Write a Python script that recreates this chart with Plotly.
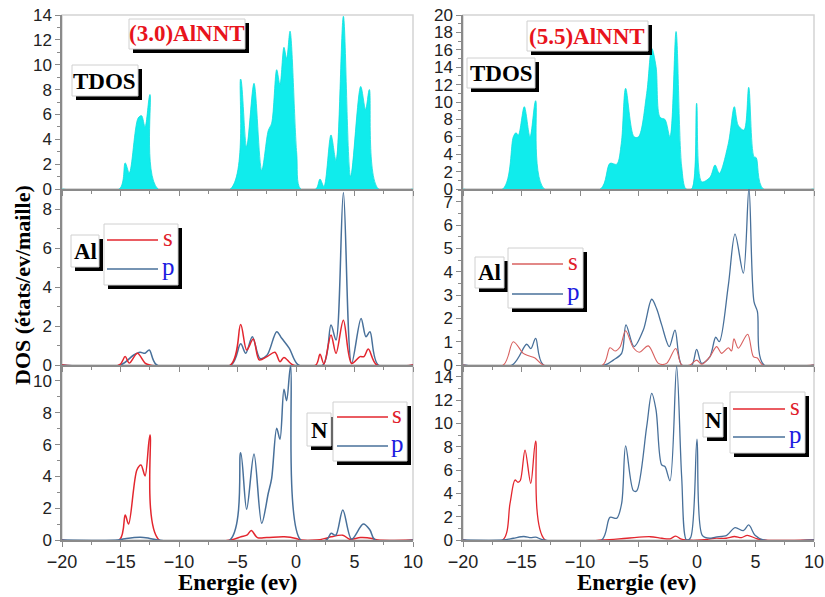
import plotly.graph_objects as go

W, H = 825, 597

# ---------------- data ----------------
# (3.0)AlNNT
e_tdos_30 = [-20, -15.1, -14.6, -14.25, -13.5, -13.2, -12.9, -12.48, -11.8, -5.6, -4.73, -4.22, -3.59, -2.93,
             -2.37, -2.08, -1.65, -1.37, -1.03, -0.8, -0.51, 0.06, 0.4, 1.7, 2.05, 2.39, 2.99, 3.42, 4.05,
             4.67, 5.53, 5.95, 6.27, 7.05, 10]
tdos_30 = [0, 0, 2.1, 1.3, 5.7, 5.9, 5.0, 7.6, 0, 0, 8.85, 3.4, 8.5, 1.5,
           4.7, 5.3, 9.6, 8.4, 11.4, 10.5, 12.7, 2.9, 0, 0, 0.8, 0.2, 4.35, 2.3, 13.9,
           1.0, 8.25, 6.4, 8.0, 0, 0]

e_al_s_30 = [-20, -15.1, -14.6, -14.25, -13.56, -12.9, -12.5, -5.6, -4.73, -4.22, -3.65, -3.14, -2.48, -1.8,
             -1.37, -1.03, -0.25, 1.7, 2.05, 2.39, 2.99, 3.42, 4.05, 4.75, 5.47, 5.81, 6.18, 6.9, 10]
al_s_30 = [0, 0, 0.43, 0.1, 0.6, 0.1, 0, 0, 2.08, 0.77, 1.33, 0.26, 0.43, 0.65,
           0.17, 0.39, 0, 0, 0.55, 0.05, 1.54, 0.6, 2.3, 0.08, 0.43, 0.43, 0.82, 0, 0]

e_al_p_30 = [-20, -15.0, -13.9, -13.33, -12.9, -12.54, -11.9, -5.55, -4.73, -4.3, -3.73, -3.08, -2.48, -1.65,
             -1.22, -0.57, 0.2, 2.3, 2.99, 3.42, 4.05, 4.75, 5.56, 5.98, 6.32, 7.03, 10]
al_p_30 = [0, 0, 0.5, 0.65, 0.6, 0.77, 0, 0, 1.09, 0.6, 1.45, 0.34, 0.5, 1.71,
           1.37, 0.85, 0, 0, 2.05, 1.28, 8.85, 0.08, 2.39, 1.45, 1.71, 0, 0]

e_n_s_30 = [-20, -15.1, -14.6, -14.31, -13.6, -13.25, -12.9, -12.48, -11.7, -5.6, -4.7, -4.2, -3.82, -3.3,
            -2.5, -1.0, 0.0, 0.4, 1.8, 2.5, 3.0, 4.0, 4.6, 5.5, 6.5, 7.0, 10]
n_s_30 = [0, 0, 1.57, 1.0, 4.4, 4.72, 4.03, 6.6, 0, 0, 0.2, 0.3, 0.59, 0.15,
          0.15, 0.2, 0.1, 0, 0, 0.1, 0.2, 0.3, 0.05, 0.15, 0.1, 0, 0]

e_n_p_30 = [-20, -15.2, -14.5, -13.3, -12.5, -11.8, -5.65, -4.73, -4.22, -3.59, -2.93, -2.37, -2.08, -1.65,
            -1.37, -1.03, -0.8, -0.46, 0.4, 2.6, 3.0, 3.4, 4.0, 4.75, 5.75, 6.32, 6.75, 10]
n_p_30 = [0, 0, 0.1, 0.18, 0.1, 0, 0, 5.49, 1.93, 5.41, 1.05, 2.94, 3.88, 7.02,
          6.33, 9.48, 8.76, 10.95, 0, 0, 0.42, 0.3, 1.89, 0.05, 1.0, 0.63, 0, 0]

# (5.5)AlNNT
e_tdos_55 = [-20, -16.6, -15.7, -15.47, -15.27, -14.76, -14.27, -13.79, -13.05, -8.25, -7.44, -6.86, -6.47,
             -6.1, -5.38, -5.0, -4.3, -3.87, -3.5, -3.16, -2.74, -2.31, -1.79, -1.31, -0.94, -0.45, -0.03,
             0.4, 1.11, 1.54, 1.91, 2.68, 3.19, 3.53, 4.02, 4.42, 4.87, 5.06, 5.67, 10]
tdos_55 = [0, 0, 6.0, 6.47, 6.2, 9.46, 6.0, 10.15, 0, 0, 2.95, 2.85, 5.25,
           11.57, 6.0, 6.0, 11.0, 16.17, 14.06, 8.24, 8.0, 6.0, 18.1, 2.6, 0, 0, 9.85,
           0.84, 1.35, 2.76, 1.8, 5.25, 9.46, 7.3, 6.78, 11.69, 3.72, 3.6, 0, 0]

e_al_s_55 = [-20, -16.55, -15.7, -14.85, -14.4, -13.85, -13.13, -8.06, -7.44, -7.0, -6.58, -6.1, -5.44,
             -4.93, -4.16, -3.3, -2.6, -1.82, -1.31, -0.6, -0.03, 0.4, 1.11, 1.68, 2.1, 2.68, 2.95, 3.16,
             3.53, 4.33, 4.82, 5.16, 5.62, 10]
al_s_55 = [0, 0, 1.0, 0.5, 0.4, 0.3, 0, 0, 0.74, 0.6, 0.77, 1.47, 0.74,
           0.55, 0.82, 0.07, 0.07, 0.71, 0, 0, 0.21, 0.03, 0.36, 0.79, 0.5, 0.74, 0.6, 1.12,
           0.72, 1.32, 0.36, 0.3, 0, 0]

e_al_p_55 = [-20, -15.8, -14.56, -14.2, -13.79, -13.13, -7.86, -7.15, -6.44, -6.07, -5.38, -4.59, -3.87,
             -3.44, -3.02, -2.37, -1.88, -1.31, -0.45, -0.03, 0.4, 1.11, 1.6, 1.91, 2.68, 3.25, 3.96,
             4.44, 4.87, 5.16, 5.73, 10]
al_p_55 = [0, 0, 0.89, 0.7, 1.14, 0, 0, 0.21, 0.5, 1.72, 0.79, 1.5, 2.82,
           2.4, 1.72, 0.79, 1.5, 0, 0, 0.67, 0.07, 0.36, 1.19, 1.0, 3.43, 5.61, 3.94,
           7.6, 2.72, 2.3, 0, 0]

e_n_s_55 = [-20, -16.6, -15.98, -15.56, -15.3, -15.1, -14.7, -14.21, -13.79, -12.99, -8.1, -6.0, -4.0,
            -3.0, -2.3, -1.82, -1.4, -0.9, 0.4, 1.5, 2.5, 3.2, 3.8, 4.3, 5.0, 5.6, 10]
n_s_55 = [0, 0, 3.14, 5.14, 4.95, 5.1, 7.71, 4.86, 8.48, 0, 0, 0.15, 0.28,
          0.15, 0.1, 0.34, 0.1, 0, 0, 0.15, 0.15, 0.3, 0.2, 0.4, 0.15, 0, 0]

e_n_p_55 = [-20, -16.6, -15.7, -14.8, -14.2, -13.8, -13.1, -8.15, -7.44, -6.86, -6.44, -6.1, -5.44,
            -5.16, -4.3, -3.87, -3.5, -3.02, -2.74, -2.31, -1.74, -1.31, -0.9, -0.55, 0.0, 0.45, 1.1,
            1.6, 2.54, 3.25, 3.96, 4.42, 4.96, 5.67, 10]
n_p_55 = [0, 0, 0.15, 0.3, 0.2, 0.25, 0, 0, 1.94, 1.86, 3.14, 8.06, 4.23,
          4.2, 9.71, 12.57, 11.14, 6.43, 6.3, 5.08, 14.9, 5.4, 0, 0.2, 8.65, 0.4, 0.15,
          0.25, 0.4, 1.06, 0.8, 1.29, 0.4, 0, 0]

x_ticks = [-20, -15, -10, -5, 0, 5, 10]
y_ranges = {1: [0, 14], 2: [0, 9.03], 3: [0, 11], 4: [0, 20], 5: [0, 7.55], 6: [0, 15]}
y_dticks = {1: 2, 2: 2, 3: 2, 4: 2, 5: 1, 6: 2}

# ---------------- styling ----------------
CYAN = '#10ecec'
RED_L = '#e3262e'
RED_R = '#d8605f'
BLUE = '#48709a'
AXIS = '#8a8a8a'
FRAME = '#d4d4d4'
SERIF = 'Liberation Serif, Times New Roman, Times, serif'
SANS = 'Liberation Sans, Arial, sans-serif'


def fx(px):
    return px / W


def fy(py):
    return 1 - py / H


LEFT = [fx(62), fx(413)]
RIGHT = [fx(463), fx(814)]
ROWS = [[fy(189), fy(15)], [fy(365), fy(189)], [fy(540), fy(365)]]

fig = go.Figure()


def ax(i):
    return ('x' if i == 1 else 'x%d' % i), ('y' if i == 1 else 'y%d' % i)


def add_line(i, xs, ys, color, width):
    xa, ya = ax(i)
    fig.add_trace(go.Scatter(x=xs, y=ys, mode='lines', xaxis=xa, yaxis=ya,
                             line=dict(color=color, width=width, shape='spline', smoothing=0.9),
                             showlegend=False, hoverinfo='skip'))


def add_fill(i, xs, ys):
    xa, ya = ax(i)
    fig.add_trace(go.Scatter(x=xs, y=ys, mode='lines', xaxis=xa, yaxis=ya, fill='tozeroy',
                             fillcolor=CYAN, line=dict(color='#0fdede', width=0.8, shape='spline', smoothing=0.9),
                             showlegend=False, hoverinfo='skip'))


add_fill(1, e_tdos_30, tdos_30)
add_line(2, e_al_p_30, al_p_30, BLUE, 1.5)
add_line(2, e_al_s_30, al_s_30, RED_L, 1.5)
add_line(3, e_n_s_30, n_s_30, RED_L, 1.5)
add_line(3, e_n_p_30, n_p_30, BLUE, 1.5)
add_fill(4, e_tdos_55, tdos_55)
add_line(5, e_al_p_55, al_p_55, BLUE, 1.3)
add_line(5, e_al_s_55, al_s_55, RED_R, 1.1)
add_line(6, e_n_s_55, n_s_55, RED_L, 1.3)
add_line(6, e_n_p_55, n_p_55, BLUE, 1.3)

layout = dict(width=W, height=H, margin=dict(l=0, r=0, t=0, b=0),
              paper_bgcolor='white', plot_bgcolor='white', showlegend=False)

for i in range(1, 7):
    col = LEFT if i <= 3 else RIGHT
    row = ROWS[(i - 1) % 3]
    bottom = (i % 3 == 0)
    xa, ya = ax(i)
    xkey = 'xaxis' if i == 1 else 'xaxis%d' % i
    ykey = 'yaxis' if i == 1 else 'yaxis%d' % i
    layout[xkey] = dict(domain=col, anchor=ya, range=[-20, 10], tickvals=x_ticks,
                        showticklabels=bottom, ticks='outside', ticklen=5, tickwidth=1.2, tickcolor=AXIS,
                        minor=dict(dtick=2.5, tick0=0, ticks='outside', ticklen=3, tickcolor=AXIS),
                        showline=True, linecolor=AXIS, linewidth=1.5, showgrid=False, zeroline=False,
                        tickfont=dict(family=SANS, size=18, color='#222'), automargin=False, fixedrange=True)
    dt = y_dticks[i]
    layout[ykey] = dict(domain=row, anchor=xa, range=y_ranges[i], dtick=dt, tick0=0,
                        ticks='outside', ticklen=5, tickwidth=1.2, tickcolor=AXIS,
                        minor=dict(dtick=dt / 2, tick0=0, ticks='outside', ticklen=3, tickcolor=AXIS),
                        showline=True, linecolor=AXIS, linewidth=1.5, showgrid=False, zeroline=False,
                        tickfont=dict(family=SANS, size=17, color='#222'), automargin=False, fixedrange=True)

shapes = []
# light frames (top/right) for each panel
for i in range(1, 7):
    xa, ya = ax(i)
    shapes.append(dict(type='rect', xref=xa + ' domain', yref=ya + ' domain', x0=0, x1=1, y0=0, y1=1,
                       line=dict(color=FRAME, width=1.5), layer='below'))

boxes = [
    (129, 19, 245, 49), (72, 65, 138, 96), (71, 235, 99, 267), (104, 224, 178, 285),
    (307, 413, 331, 446), (333, 402, 407, 461),
    (527, 21, 648, 51), (467, 58, 535, 88), (475, 257, 504, 288), (508, 248, 583, 308),
    (703, 403, 723, 437), (730, 392, 805, 453),
]
for (x0, y0, x1, y1) in boxes:
    shapes.append(dict(type='rect', xref='paper', yref='paper', x0=fx(x0 + 4), x1=fx(x1 + 4),
                       y0=fy(y1 + 4), y1=fy(y0 + 4), fillcolor='black', line=dict(width=0)))
    shapes.append(dict(type='rect', xref='paper', yref='paper', x0=fx(x0), x1=fx(x1),
                       y0=fy(y1), y1=fy(y0), fillcolor='white', line=dict(color='#d0d0d0', width=1)))

# legend sample lines
leg_lines = [
    (107, 158, 240, RED_L), (107, 158, 269, BLUE),
    (337, 388, 417, RED_L), (337, 388, 446, BLUE),
    (512, 563, 264, RED_R), (512, 563, 294, BLUE),
    (733, 785, 409, RED_L), (733, 785, 437, BLUE),
]
for (x0, x1, yy, c) in leg_lines:
    shapes.append(dict(type='line', xref='paper', yref='paper', x0=fx(x0), x1=fx(x1), y0=fy(yy), y1=fy(yy),
                       line=dict(color=c, width=1.5)))
layout['shapes'] = shapes

ann = []


def text(px, py, s, size=22, color='black', bold=True, angle=0, family=SERIF):
    ann.append(dict(x=fx(px), y=fy(py), xref='paper', yref='paper', showarrow=False,
                    text=('<b>%s</b>' % s) if bold else s, textangle=angle,
                    font=dict(family=family, size=size, color=color), xanchor='center', yanchor='middle'))


text(187, 34, '(3.0)AlNNT', size=23, color='#e8141c')
text(105, 81, 'TDOS', size=23)
text(85, 251, 'Al', size=23)
text(319, 430, 'N', size=23)
text(587, 36, '(5.5)AlNNT', size=23, color='#e8141c')
text(501, 73, 'TDOS', size=23)
text(489, 272, 'Al', size=23)
text(713, 420, 'N', size=23)
for (xx, ys, yp) in [(168, 237, 266), (397, 414, 443), (573, 261, 291), (795, 406, 434)]:
    text(xx, ys, 's', size=25, color='#e0202a', bold=False)
    text(xx, yp, 'p', size=25, color='#1c1ce0', bold=False)
text(22, 285, 'DOS (états/ev/maille)', size=22, angle=-90)
text(237, 582, 'Energie (ev)', size=23)
text(636, 582, 'Energie (ev)', size=23)
layout['annotations'] = ann

fig.update_layout(**layout)
fig.write_html('out.html')
